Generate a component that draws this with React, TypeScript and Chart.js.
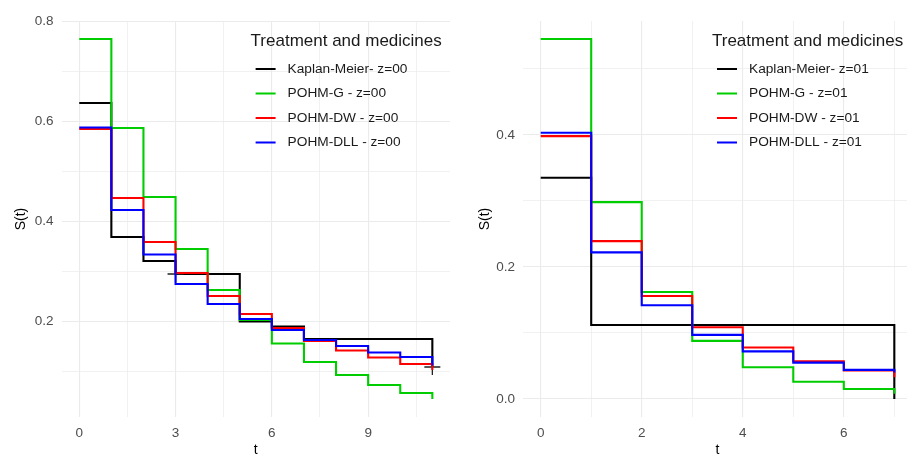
import React, { useEffect, useRef } from "react";
import { Chart, registerables } from "chart.js";

Chart.register(...registerables);

// ---- Data: left panel (z=00) ----
const tLeft = [0, 1, 2, 3, 4, 5, 6, 7, 8, 9, 10, 11];
const kmLeft = [0.637, 0.369, 0.321, 0.295, 0.295, 0.2, 0.19, 0.165, 0.165, 0.165, 0.165, 0.109];
const gLeft = [0.765, 0.587, 0.449, 0.345, 0.263, 0.203, 0.156, 0.119, 0.093, 0.073, 0.057, 0.045];
const dwLeft = [0.585, 0.447, 0.359, 0.297, 0.251, 0.215, 0.187, 0.161, 0.142, 0.128, 0.115, 0.103];
const dllLeft = [0.588, 0.423, 0.334, 0.275, 0.235, 0.205, 0.183, 0.163, 0.151, 0.138, 0.129, 0.112];
const censorLeft = [0, 0, 0, 1, 0, 0, 0, 0, 0, 0, 0, 1];
const labelsLeft = ["Kaplan-Meier- z=00", "POHM-G - z=00", "POHM-DW - z=00", "POHM-DLL - z=00"];
const xTicksLeft = [0, 1.5, 3, 4.5, 6, 7.5, 9, 10.5];
const xLabelsLeft = ["0", "", "3", "", "6", "", "9", ""];
const yTicksLeft = [0.1, 0.2, 0.3, 0.4, 0.5, 0.6, 0.7, 0.8];
const yLabelsLeft = ["", "0.2", "", "0.4", "", "0.6", "", "0.8"];

// ---- Data: right panel (z=01) ----
const tRight = [0, 1, 2, 3, 4, 5, 6, 7];
const kmRight = [0.335, 0.112, 0.112, 0.112, 0.112, 0.112, 0.112, 0.0];
const gRight = [0.545, 0.298, 0.162, 0.088, 0.048, 0.026, 0.015, 0.008];
const dwRight = [0.398, 0.239, 0.156, 0.1085, 0.078, 0.057, 0.043, 0.033];
const dllRight = [0.403, 0.222, 0.142, 0.097, 0.072, 0.055, 0.044, 0.04];
const censorRight = [0, 0, 0, 0, 0, 0, 0, 0];
const labelsRight = ["Kaplan-Meier- z=01", "POHM-G - z=01", "POHM-DW - z=01", "POHM-DLL - z=01"];
const xTicksRight = [0, 1, 2, 3, 4, 5, 6, 7];
const xLabelsRight = ["0", "", "2", "", "4", "", "6", ""];
const yTicksRight = [0.0, 0.1, 0.2, 0.3, 0.4, 0.5];
const yLabelsRight = ["0.0", "", "0.2", "", "0.4", ""];

const legendTitle = "Treatment and medicines";
const colors = ["#000000", "#00CD00", "#FF0000", "#0000FF"];
const FONT = "'Liberation Sans', Arial, sans-serif";

const innerLegend = {
  id: "innerLegend",
  afterDraw(chart: any, _args: any, opts: any) {
    const { ctx, chartArea } = chart;
    const x0 = chartArea.left + opts.dx;
    ctx.save();
    ctx.textBaseline = "middle";
    ctx.textAlign = "left";
    ctx.fillStyle = "#1A1A1A";
    ctx.font = `17px ${FONT}`;
    ctx.fillText(opts.title, x0, chartArea.top + 20);
    chart.data.datasets.forEach((ds: any, i: number) => {
      const y = chartArea.top + 48 + i * 24.5;
      ctx.strokeStyle = ds.borderColor;
      ctx.lineWidth = 2;
      ctx.beginPath();
      ctx.moveTo(x0 + 5, y);
      ctx.lineTo(x0 + 25, y);
      ctx.stroke();
      ctx.font = `13.7px ${FONT}`;
      ctx.fillStyle = "#1A1A1A";
      ctx.fillText(ds.label, x0 + 37, y);
    });
    ctx.restore();
  },
};

function makeConfig(p: {
  t: number[];
  series: number[][];
  censor: number[];
  labels: string[];
  xTicks: number[];
  xLabels: string[];
  yTicks: number[];
  yLabels: string[];
  xMin: number;
  xMax: number;
  yMin: number;
  yMax: number;
  yAxisWidth: number;
  yTitlePad: number;
}) {
  const datasets = p.series.map((vals, i) => ({
    label: p.labels[i],
    data: p.t.map((tt, j) => ({ x: tt, y: vals[j] })),
    borderColor: colors[i],
    backgroundColor: colors[i],
    borderWidth: 2.1,
    stepped: "before" as const,
    fill: false,
    order: 4 - i,
    pointStyle: "cross" as const,
    pointRadius: i === 0 ? p.censor.map((c) => (c ? 8 : 0)) : 0,
    pointBorderColor: "#222222",
    pointBorderWidth: 1.3,
    pointHoverRadius: 0,
  }));
  const gridColor = "#EBEBEB";
  return {
    type: "line" as const,
    data: { datasets },
    plugins: [innerLegend],
    options: {
      animation: false as const,
      responsive: false,
      devicePixelRatio: 1,
      layout: { padding: { top: 21, right: 10, bottom: 0, left: 0 } },
      plugins: {
        legend: { display: false },
        tooltip: { enabled: false },
        innerLegend: { dx: 189, title: legendTitle },
      },
      scales: {
        x: {
          type: "linear" as const,
          min: p.xMin,
          max: p.xMax,
          afterBuildTicks: (s: any) => {
            s.ticks = p.xTicks.map((v) => ({ value: v }));
          },
          afterFit: (s: any) => {
            s.height = 53;
          },
          ticks: {
            autoSkip: false,
            maxRotation: 0,
            padding: 8,
            color: "#4D4D4D",
            font: { family: FONT, size: 13.5 },
            callback: (_v: any, idx: number) => p.xLabels[idx],
          },
          grid: {
            color: gridColor,
            lineWidth: (c: any) => (p.xLabels[c.index] ? 1.1 : 0.7),
            drawTicks: false,
          },
          border: { display: false },
          title: {
            display: true,
            text: "t",
            color: "#000000",
            font: { family: FONT, size: 14 },
            padding: { top: 0, bottom: 11.6 },
          },
        },
        y: {
          type: "linear" as const,
          min: p.yMin,
          max: p.yMax,
          afterBuildTicks: (s: any) => {
            s.ticks = p.yTicks.map((v) => ({ value: v }));
          },
          afterFit: (s: any) => {
            s.width = p.yAxisWidth;
          },
          ticks: {
            autoSkip: false,
            padding: 8,
            color: "#4D4D4D",
            font: { family: FONT, size: 13.5 },
            callback: (_v: any, idx: number) => p.yLabels[idx],
          },
          grid: {
            color: gridColor,
            lineWidth: (c: any) => (p.yLabels[c.index] ? 1.1 : 0.7),
            drawTicks: false,
          },
          border: { display: false },
          title: {
            display: true,
            text: "S(t)",
            color: "#000000",
            font: { family: FONT, size: 14 },
            padding: { top: p.yTitlePad, bottom: 0 },
          },
        },
      },
    },
  };
}

export default function App() {
  const leftRef = useRef<HTMLCanvasElement>(null);
  const rightRef = useRef<HTMLCanvasElement>(null);

  useEffect(() => {
    const left = new Chart(
      leftRef.current as HTMLCanvasElement,
      makeConfig({
        t: tLeft,
        series: [kmLeft, gLeft, dwLeft, dllLeft],
        censor: censorLeft,
        labels: labelsLeft,
        xTicks: xTicksLeft,
        xLabels: xLabelsLeft,
        yTicks: yTicksLeft,
        yLabels: yLabelsLeft,
        xMin: -0.55,
        xMax: 11.55,
        yMin: 0.009,
        yMax: 0.801,
        yAxisWidth: 61.6,
        yTitlePad: 12.6,
      }) as any
    );
    const right = new Chart(
      rightRef.current as HTMLCanvasElement,
      makeConfig({
        t: tRight,
        series: [kmRight, gRight, dwRight, dllRight],
        censor: censorRight,
        labels: labelsRight,
        xTicks: xTicksRight,
        xLabels: xLabelsRight,
        yTicks: yTicksRight,
        yLabels: yLabelsRight,
        xMin: -0.35,
        xMax: 7.35,
        yMin: -0.0273,
        yMax: 0.5723,
        yAxisWidth: 63,
        yTitlePad: 16.6,
      }) as any
    );
    return () => {
      left.destroy();
      right.destroy();
    };
  }, []);

  return (
    <div
      style={{
        position: "fixed",
        left: 0,
        top: 0,
        width: 907,
        height: 455,
        overflow: "hidden",
        background: "#ffffff",
      }}
    >
      <canvas
        ref={leftRef}
        width={460}
        height={470}
        style={{ position: "absolute", left: 0, top: 0, width: 460, height: 470 }}
      />
      <canvas
        ref={rightRef}
        width={462}
        height={470}
        style={{ position: "absolute", left: 460, top: 0, width: 462, height: 470 }}
      />
    </div>
  );
}
